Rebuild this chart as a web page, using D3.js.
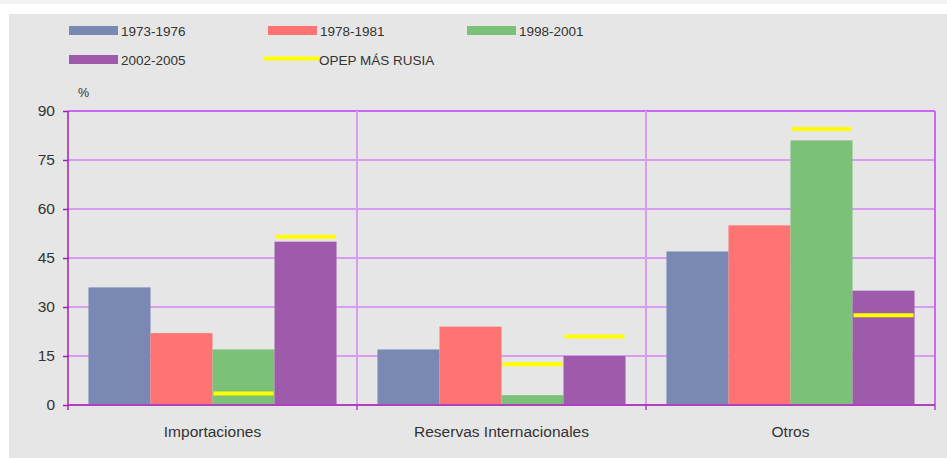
<!DOCTYPE html>
<html>
<head>
<meta charset="utf-8">
<script src="https://cdn.jsdelivr.net/npm/d3@7"></script>
<style>
  html, body { margin: 0; padding: 0; background: #ffffff; }
  svg { display: block; font-family: "Liberation Sans", Arial, sans-serif; }
</style>
</head>
<body>
<svg id="chart" width="947" height="458"></svg>
<script>
// Categories and periods
const categories = ["Importaciones", "Reservas Internacionales", "Otros"];
const periods = ["1973-1976", "1978-1981", "1998-2001", "2002-2005"];
const periodColors = ["#7a89b3", "#ff7373", "#7bc177", "#9e5bab"];

// Share (%) per period, one array per category order
const values1973 = [36, 17, 47];
const values1978 = [22, 24, 55];
const values1998 = [17, 3, 81];
const values2002 = [50, 15, 35];

// OPEP más Rusia reference marks, shown for the last two periods
const opepPeriods = ["1998-2001", "2002-2005"];
const opep1998 = [3.5, 12.5, 84.5];
const opep2002 = [51.5, 21, 27.5];

const yTicks = [0, 15, 30, 45, 60, 75, 90];
const opepLabel = "OPEP MÁS RUSIA";
const unitLabel = "%";

const seriesValues = [values1973, values1978, values1998, values2002];
const opepValues = [opep1998, opep2002];

const svg = d3.select("#chart");
const W = 947, H = 458;

// Page strip and chart panel
svg.append("rect").attr("x", 0).attr("y", 0).attr("width", W).attr("height", 4).attr("fill", "#f2f2f2");
svg.append("rect").attr("x", 9).attr("y", 14).attr("width", W - 9).attr("height", H - 14).attr("fill", "#e6e6e6");

const plot = { left: 68, right: 935, top: 111, bottom: 405 };

const x0 = d3.scaleBand().domain(categories).range([plot.left, plot.right]).padding(0);
const x1 = d3.scaleBand().domain(periods).range([0, x0.bandwidth()]).paddingInner(0).paddingOuter(0.33);
const y = d3.scaleLinear().domain([0, 90]).range([plot.bottom, plot.top]);

// Horizontal gridlines
svg.append("g").selectAll("line").data(yTicks.filter(t => t > 0)).join("line")
  .attr("x1", plot.left).attr("x2", plot.right)
  .attr("y1", d => y(d)).attr("y2", d => y(d))
  .attr("stroke", d => d === 90 ? "#cc66f5" : "#d99cf0")
  .attr("stroke-width", 2);

// Vertical category dividers
const dividerX = categories.slice(1).map(c => x0(c)).concat([plot.right]);
svg.append("g").selectAll("line").data(dividerX).join("line")
  .attr("x1", d => d).attr("x2", d => d)
  .attr("y1", plot.top).attr("y2", plot.bottom)
  .attr("stroke", (d, i) => i < dividerX.length - 1 ? "#d99cf0" : "#cc66f5")
  .attr("stroke-width", 2);

// Bars
const barData = [];
categories.forEach((c, ci) => {
  periods.forEach((p, pi) => {
    barData.push({ cat: c, period: p, value: seriesValues[pi][ci], color: periodColors[pi] });
  });
});
svg.append("g").selectAll("rect").data(barData).join("rect")
  .attr("x", d => x0(d.cat) + x1(d.period))
  .attr("width", x1.bandwidth())
  .attr("y", d => y(d.value))
  .attr("height", d => y(0) - y(d.value))
  .attr("fill", d => d.color);

// OPEP más Rusia dashes
const opepData = [];
categories.forEach((c, ci) => {
  opepPeriods.forEach((p, pi) => {
    opepData.push({ cat: c, period: p, value: opepValues[pi][ci] });
  });
});
svg.append("g").selectAll("line").data(opepData).join("line")
  .attr("x1", d => x0(d.cat) + x1(d.period) + 1)
  .attr("x2", d => x0(d.cat) + x1(d.period) + x1.bandwidth() - 1)
  .attr("y1", d => y(d.value)).attr("y2", d => y(d.value))
  .attr("stroke", "#ffff00")
  .attr("stroke-width", 4);

// Y axis
const yAxis = svg.append("g").attr("transform", `translate(${plot.left},0)`)
  .call(d3.axisLeft(y).tickValues(yTicks).tickSize(5).tickPadding(8));
yAxis.select(".domain").remove();
yAxis.selectAll(".tick line").attr("stroke", "#a020b0").attr("stroke-width", 1.5);
yAxis.selectAll(".tick text").attr("fill", "#333").attr("font-size", 15.5)
  .attr("font-family", "'Liberation Sans', Arial, sans-serif");
svg.append("line").attr("x1", plot.left).attr("x2", plot.left)
  .attr("y1", plot.top).attr("y2", plot.bottom + 5)
  .attr("stroke", "#a020b0").attr("stroke-width", 1.5);

// X baseline and category ticks
svg.append("line").attr("x1", plot.left).attr("x2", plot.right)
  .attr("y1", plot.bottom).attr("y2", plot.bottom)
  .attr("stroke", "#b040c0").attr("stroke-width", 2);
svg.append("g").selectAll("line").data(dividerX).join("line")
  .attr("x1", d => d).attr("x2", d => d)
  .attr("y1", plot.bottom).attr("y2", plot.bottom + 5)
  .attr("stroke", "#b040c0").attr("stroke-width", 1.5);

// Category labels
svg.append("g").selectAll("text").data(categories).join("text")
  .attr("x", d => x0(d) + x0.bandwidth() / 2)
  .attr("y", 436.5)
  .attr("text-anchor", "middle")
  .attr("font-size", 15.5)
  .attr("fill", "#333")
  .text(d => d);

// Unit label
svg.append("text").attr("x", 78).attr("y", 97).attr("font-size", 12.5).attr("fill", "#333").text(unitLabel);

// Legend
const legendItems = periods.map((p, i) => ({ label: p, color: periodColors[i], type: "box" }))
  .concat([{ label: opepLabel, color: "#ffff00", type: "line" }]);
const legend = svg.append("g").selectAll("g").data(legendItems).join("g")
  .attr("transform", (d, i) => `translate(${69 + (i % 3) * 199},${i < 3 ? 26 : 55})`);
legend.filter(d => d.type === "box").append("rect")
  .attr("x", 0).attr("y", 0).attr("width", 49).attr("height", 9).attr("fill", d => d.color);
legend.filter(d => d.type === "line").append("line")
  .attr("x1", -3).attr("x2", 50).attr("y1", 3.5).attr("y2", 3.5)
  .attr("stroke", d => d.color).attr("stroke-width", 4).attr("stroke-linecap", "round");
legend.append("text")
  .attr("x", d => d.type === "box" ? 52 : 51)
  .attr("y", 10)
  .attr("font-size", 13.5)
  .attr("fill", "#333")
  .text(d => d.label);
</script>
</body>
</html>
